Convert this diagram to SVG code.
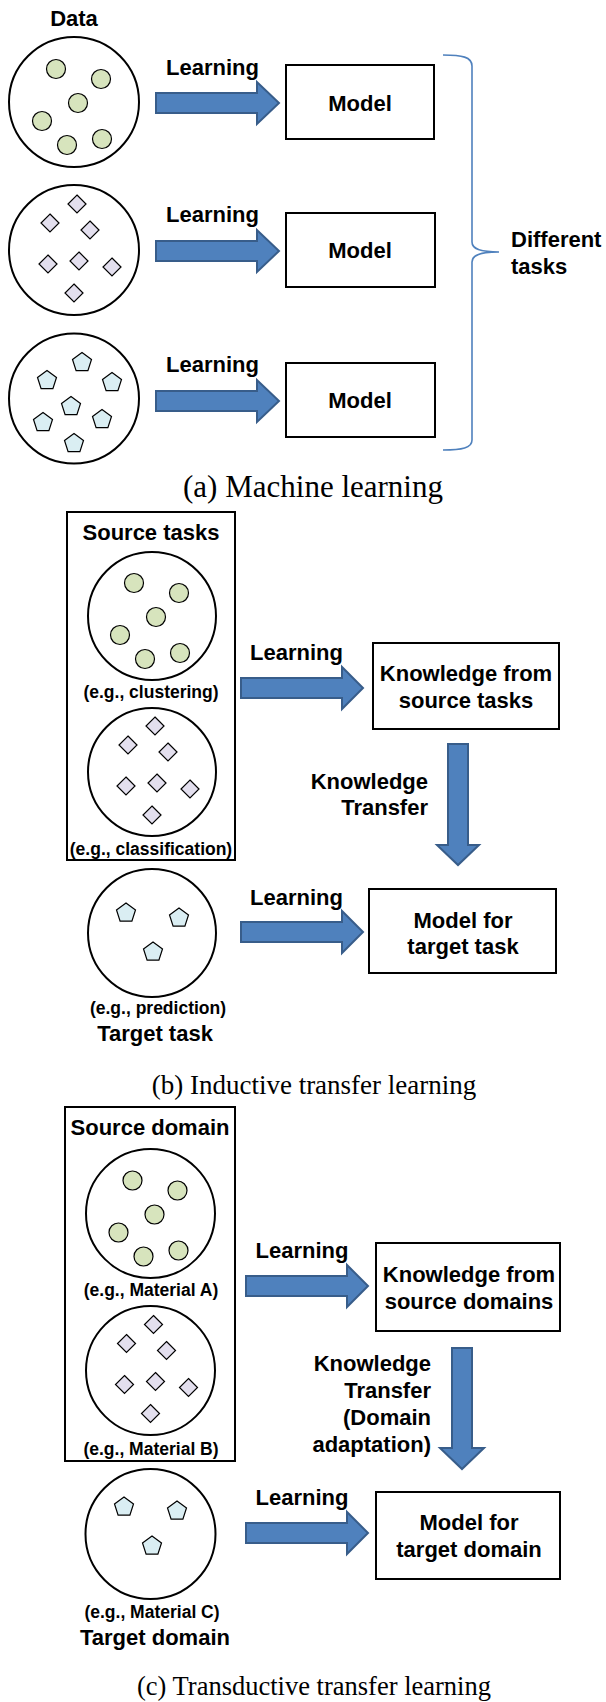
<svg xmlns="http://www.w3.org/2000/svg" width="606" height="1702" viewBox="0 0 606 1702">
  <style>
    .lbl { font-family: "Liberation Sans", Arial, sans-serif; font-weight: bold; font-size: 22px; fill: #000; }
    .small { font-family: "Liberation Sans", Arial, sans-serif; font-weight: bold; font-size: 17.5px; fill: #000; }
    .cap { font-family: "Liberation Serif", "Times New Roman", serif; fill: #000; }
    .mid { text-anchor: middle; }
    .end { text-anchor: end; }
    .pool { fill: #fff; stroke: #000; stroke-width: 2; }
    .box { fill: #fff; stroke: #000; stroke-width: 2; }
    .arrow { fill: #4F81BD; stroke: #385D8A; stroke-width: 2; stroke-linejoin: miter; }
    .brace { fill: none; stroke: #4F81BD; stroke-width: 1.6; }
  </style>
  <defs>
    <circle id="dot" r="9.5" fill="#D7E4BD" stroke="#000" stroke-width="1.2"/>
    <polygon id="dia" points="0,-9 9,0 0,9 -9,0" fill="#E3DFEE" stroke="#000" stroke-width="1.2"/>
    <polygon id="pent" points="0,-10 9.5,-3.1 5.9,8.1 -5.9,8.1 -9.5,-3.1" fill="#DAEEF3" stroke="#000" stroke-width="1.2"/>
    <!-- six-dot cluster, centred on its pool -->
    <g id="dots">
      <use href="#dot" x="-18" y="-33"/>
      <use href="#dot" x="27" y="-23"/>
      <use href="#dot" x="4" y="1"/>
      <use href="#dot" x="-32" y="19"/>
      <use href="#dot" x="-7" y="43"/>
      <use href="#dot" x="28" y="37"/>
    </g>
    <g id="dias">
      <use href="#dia" x="3" y="-46"/>
      <use href="#dia" x="-24" y="-27"/>
      <use href="#dia" x="16" y="-20"/>
      <use href="#dia" x="-26" y="14"/>
      <use href="#dia" x="5" y="11"/>
      <use href="#dia" x="38" y="17"/>
      <use href="#dia" x="0" y="43"/>
    </g>
    <g id="pents">
      <use href="#pent" x="8" y="-36"/>
      <use href="#pent" x="-27" y="-18"/>
      <use href="#pent" x="38" y="-16"/>
      <use href="#pent" x="-3" y="8"/>
      <use href="#pent" x="-31" y="24"/>
      <use href="#pent" x="28" y="21"/>
      <use href="#pent" x="0" y="45"/>
    </g>
  </defs>

  <!-- (a) Machine learning -->
  <text class="lbl mid" x="74" y="26">Data</text>

  <g id="a-data1">
    <circle class="pool" cx="74" cy="102" r="65"/>
    <use href="#dots" x="74" y="102"/>
  </g>
  <g id="a-data2">
    <circle class="pool" cx="74" cy="250" r="65"/>
    <use href="#dias" x="74" y="250"/>
  </g>
  <g id="a-data3">
    <circle class="pool" cx="74" cy="398.5" r="65"/>
    <use href="#pents" x="74" y="398.5"/>
  </g>

  <g id="a-model1">
    <rect class="box" x="286" y="65" width="148" height="74"/>
    <text class="lbl mid" x="360" y="111">Model</text>
  </g>
  <g id="a-model2">
    <rect class="box" x="286" y="213" width="149" height="74"/>
    <text class="lbl mid" x="360" y="258">Model</text>
  </g>
  <g id="a-model3">
    <rect class="box" x="286" y="363" width="149" height="74"/>
    <text class="lbl mid" x="360" y="408">Model</text>
  </g>

  <g id="a-tasks">
    <path class="brace" d="M443,55 C462,55 472,57 472,66 L472,242 C472,249 480,252 499,252 C480,252 472,255 472,262 L472,440 C472,448 462,450 443,450"/>
    <text class="lbl" x="511" y="247">Different</text>
    <text class="lbl" x="511" y="274">tasks</text>
  </g>

  <text class="cap mid" x="313" y="497" font-size="31">(a) Machine learning</text>

  <!-- (b) Inductive transfer learning -->
  <g id="b-source">
    <rect class="box" x="67" y="512" width="168" height="348"/>
    <text class="lbl mid" x="151" y="540">Source tasks</text>
    <circle class="pool" cx="152" cy="616" r="64"/>
    <use href="#dots" x="152" y="616"/>
    <text class="small mid" x="151" y="698">(e.g., clustering)</text>
    <circle class="pool" cx="152" cy="772" r="64"/>
    <use href="#dias" x="152" y="772"/>
    <text class="small mid" x="151" y="855">(e.g., classification)</text>
  </g>

  <g id="b-target">
    <circle class="pool" cx="152" cy="933" r="64"/>
    <use href="#pent" x="126" y="913"/>
    <use href="#pent" x="179" y="918"/>
    <use href="#pent" x="153" y="952"/>
    <text class="small mid" x="158" y="1014">(e.g., prediction)</text>
    <text class="lbl mid" x="155" y="1041">Target task</text>
  </g>

  <g id="b-knowledge">
    <rect class="box" x="373" y="643" width="186" height="86"/>
    <text class="lbl mid" x="466" y="681">Knowledge from</text>
    <text class="lbl mid" x="466" y="708">source tasks</text>
  </g>
  <g id="b-model">
    <rect class="box" x="369" y="889" width="187" height="84"/>
    <text class="lbl mid" x="463" y="928">Model for</text>
    <text class="lbl mid" x="463" y="954">target task</text>
  </g>

  <text class="cap mid" x="314" y="1094" font-size="27">(b) Inductive transfer learning</text>

  <!-- (c) Transductive transfer learning -->
  <g id="c-source">
    <rect class="box" x="65" y="1107" width="170" height="354"/>
    <text class="lbl mid" x="150" y="1135">Source domain</text>
    <circle class="pool" cx="150.5" cy="1213.5" r="64.5"/>
    <use href="#dots" x="150.5" y="1213.5"/>
    <text class="small mid" x="151" y="1296">(e.g., Material A)</text>
    <circle class="pool" cx="150.5" cy="1370.5" r="64.5"/>
    <use href="#dias" x="150.5" y="1370.5"/>
    <text class="small mid" x="151" y="1455">(e.g., Material B)</text>
  </g>

  <g id="c-target">
    <circle class="pool" cx="150.5" cy="1534" r="65"/>
    <use href="#pent" x="124" y="1507"/>
    <use href="#pent" x="177" y="1511"/>
    <use href="#pent" x="152" y="1546"/>
    <text class="small mid" x="152" y="1618">(e.g., Material C)</text>
    <text class="lbl mid" x="155" y="1645">Target domain</text>
  </g>

  <g id="c-knowledge">
    <rect class="box" x="376" y="1243" width="184" height="88"/>
    <text class="lbl mid" x="469" y="1282">Knowledge from</text>
    <text class="lbl mid" x="469" y="1309">source domains</text>
  </g>
  <g id="c-model">
    <rect class="box" x="376" y="1492" width="184" height="87"/>
    <text class="lbl mid" x="469" y="1530">Model for</text>
    <text class="lbl mid" x="469" y="1557">target domain</text>
  </g>

  <text class="cap mid" x="314" y="1695" font-size="26.5">(c) Transductive transfer learning</text>

  <!-- block arrows and their labels -->
  <g id="connectors">
    <path class="arrow" d="M156,93 L257,93 L257,82 L279,103 L257,124 L257,113 L156,113 Z"/>
    <text class="lbl mid" x="212.5" y="75">Learning</text>
    <path class="arrow" d="M156,241 L257,241 L257,230 L279,251 L257,272 L257,261 L156,261 Z"/>
    <text class="lbl mid" x="212.5" y="222">Learning</text>
    <path class="arrow" d="M156,391 L257,391 L257,380 L279,401 L257,422 L257,411 L156,411 Z"/>
    <text class="lbl mid" x="212.5" y="372">Learning</text>

    <path class="arrow" d="M241,678 L342,678 L342,667 L363,688 L342,709 L342,698 L241,698 Z"/>
    <text class="lbl mid" x="296.5" y="660">Learning</text>
    <path class="arrow" d="M448,744 L468,744 L468,845 L479,845 L458,865 L437,845 L448,845 Z"/>
    <text class="lbl end" x="428" y="789">Knowledge</text>
    <text class="lbl end" x="428" y="815">Transfer</text>
    <path class="arrow" d="M241,922 L342,922 L342,911 L363,932 L342,953 L342,942 L241,942 Z"/>
    <text class="lbl mid" x="296.5" y="905">Learning</text>

    <path class="arrow" d="M246,1276 L347,1276 L347,1265 L368,1286 L347,1307 L347,1296 L246,1296 Z"/>
    <text class="lbl mid" x="302" y="1258">Learning</text>
    <path class="arrow" d="M452,1348 L472,1348 L472,1448 L484,1448 L462,1469 L440,1448 L452,1448 Z"/>
    <text class="lbl end" x="431" y="1371">Knowledge</text>
    <text class="lbl end" x="431" y="1398">Transfer</text>
    <text class="lbl end" x="431" y="1425">(Domain</text>
    <text class="lbl end" x="431" y="1452">adaptation)</text>
    <path class="arrow" d="M246,1523 L347,1523 L347,1512 L368,1533 L347,1554 L347,1543 L246,1543 Z"/>
    <text class="lbl mid" x="302" y="1505">Learning</text>
  </g>
</svg>
